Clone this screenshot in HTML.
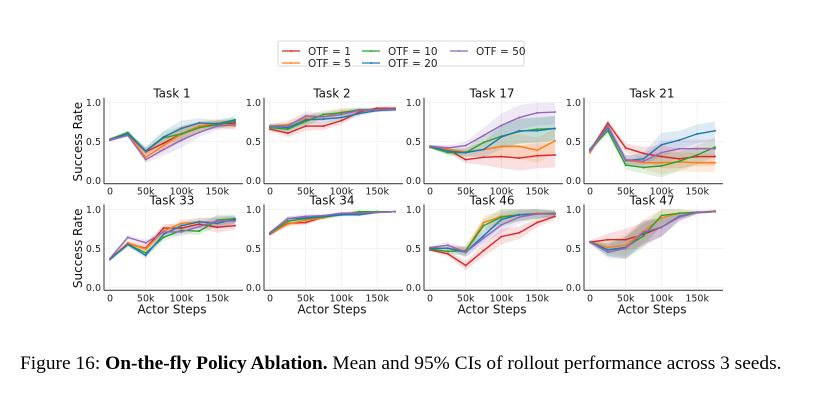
<!DOCTYPE html>
<html><head><meta charset="utf-8"><style>
body{margin:0;background:#fff;width:822px;height:414px;overflow:hidden}
svg text{font-family:"DejaVu Sans","Liberation Sans",sans-serif}
.cap{position:absolute;left:20px;top:353px;font-family:"Liberation Serif",serif;font-size:19.4px;color:#000;white-space:nowrap}
</style></head><body>
<svg id="fig" width="822" height="414" style="position:absolute;left:0;top:0"></svg>
<div class="cap">Figure 16: <b>On-the-fly Policy Ablation.</b> Mean and 95% CIs of rollout performance across 3 seeds.</div>
<script>
const steps=[0,25000,50000,75000,100000,125000,150000,175000];
const xTicks=[0,50000,100000,150000];
const xTickLabels=["0","50k","100k","150k"];
const yTicks=[0,0.5,1.0];
const yTickLabels=["0.0","0.5","1.0"];
const seriesNames=["OTF = 1","OTF = 5","OTF = 10","OTF = 20","OTF = 50"];
const colors=["#d62728","#ff7f0e","#2ca02c","#1f77b4","#9467bd"];
const taskNames=["Task 1","Task 2","Task 17","Task 21","Task 33","Task 34","Task 46","Task 47"];
const t1=[[.52,.60,.37,.48,.60,.70,.72,.74],[.53,.60,.30,.45,.60,.70,.74,.70],[.53,.62,.38,.55,.60,.68,.72,.76],[.53,.60,.38,.56,.67,.74,.73,.78],[.52,.58,.27,.40,.52,.62,.70,.72]];
const t2=[[.66,.61,.70,.70,.77,.88,.93,.93],[.70,.72,.80,.82,.88,.90,.90,.91],[.68,.66,.76,.85,.87,.91,.91,.92],[.70,.68,.78,.79,.81,.86,.90,.91],[.70,.70,.83,.82,.85,.90,.91,.92]];
const t17=[[.44,.40,.27,.30,.31,.29,.32,.33],[.44,.40,.37,.40,.44,.44,.39,.51],[.43,.36,.36,.49,.57,.63,.66,.67],[.44,.38,.36,.40,.56,.64,.64,.67],[.44,.42,.45,.58,.71,.81,.87,.88]];
const t21=[[.38,.74,.42,.35,.31,.28,.31,.31],[.36,.70,.26,.23,.23,.24,.23,.23],[.40,.64,.20,.17,.19,.25,.33,.43],[.40,.68,.26,.28,.46,.52,.60,.64],[.38,.70,.27,.25,.36,.41,.41,.41]];
const t33=[[.36,.56,.50,.76,.76,.81,.77,.79],[.36,.57,.49,.72,.82,.84,.83,.87],[.36,.55,.44,.64,.73,.72,.86,.88],[.36,.55,.41,.68,.79,.84,.82,.87],[.37,.64,.57,.71,.71,.78,.85,.85]];
const t34=[[.68,.82,.83,.90,.94,.95,.96,.97],[.69,.81,.86,.89,.94,.96,.97,.97],[.69,.85,.88,.90,.93,.97,.97,.97],[.70,.88,.89,.91,.93,.93,.96,.97],[.70,.88,.91,.92,.95,.95,.96,.97]];
const t46=[[.48,.43,.28,.47,.65,.70,.83,.91],[.50,.50,.47,.83,.91,.93,.95,.95],[.49,.46,.47,.79,.90,.93,.94,.95],[.50,.50,.45,.66,.87,.93,.94,.94],[.51,.54,.45,.63,.80,.90,.94,.94]];
const t47=[[.58,.61,.61,.68,.77,.90,.96,.97],[.58,.51,.54,.72,.89,.95,.96,.98],[.58,.48,.51,.66,.92,.95,.96,.97],[.58,.48,.51,.70,.77,.91,.96,.97],[.58,.45,.50,.71,.77,.90,.96,.97]];
const taskData=[t1,t2,t17,t21,t33,t34,t46,t47];
const ci1=[.02,.02,.05,.08,.10,.06,.05,.05];
const ci2=[.03,.05,.06,.05,.05,.03,.02,.02];
const ci17=[.02,.04,.05,.10,.15,.16,.16,.16];
const ci21=[.03,.04,.06,.08,.15,.12,.12,.12];
const ci33=[.02,.03,.04,.05,.05,.05,.07,.05];
const ci34=[.02,.03,.03,.02,.02,.02,.01,.01];
const ci46=[.02,.04,.06,.08,.10,.08,.06,.04];
const ci47=[.02,.08,.14,.15,.12,.05,.02,.01];
const taskCI=[ci1,ci2,ci17,ci21,ci33,ci34,ci46,ci47];

const NS="http://www.w3.org/2000/svg";
const svg=document.getElementById('fig');
function mk(tag,at,par){const e=document.createElementNS(NS,tag);for(const k in at)e.setAttribute(k,at[k]);(par||svg).appendChild(e);return e;}

const lg=mk('g',{});


mk('rect',{x:278,y:41,width:246,height:25,fill:'#fff',stroke:'#ccc','stroke-width':0.8,rx:2},lg);
const lpos=[[282,51],[282,63],[362,51],[362,63],[450,51]];
seriesNames.forEach((n,i)=>{
  const g=mk('g',{},lg);
  
  
  const [lx,ly]=lpos[i];
  mk('line',{x1:lx,y1:ly,x2:lx+18,y2:ly,stroke:colors[i],'stroke-width':1.3},g);
  mk('circle',{cx:lx+9,cy:ly,r:1,fill:colors[i]},g);
  const t=mk('text',{x:lx+26,y:ly+3.8,'font-size':10.5,fill:'#222'},g);t.textContent=n;
});

const pX0=[110,270,430,590];
const rowY=[[102.7,180.7],[209.3,287.3]];
taskData.forEach((data,ti)=>{
  const col=ti%4,row=Math.floor(ti/4);
  const x0=pX0[col];const [y1,y0]=rowY[row];
  const sx=v=>x0+v/175000*125;
  const sy=v=>y0-(y0-y1)*v;
  const g=mk('g',{});
  
  
  yTicks.forEach(v=>mk('line',{x1:x0-6,x2:x0+133,y1:sy(v),y2:sy(v),stroke:'#ececec','stroke-width':0.7},g));
  xTicks.forEach(v=>mk('line',{x1:sx(v),x2:sx(v),y1:y1-4,y2:y0+1,stroke:'#ececec','stroke-width':0.7},g));
  mk('line',{x1:x0-6,x2:x0-6,y1:y1-5,y2:y0+3,stroke:'#444','stroke-width':1.1},g);
  mk('line',{x1:x0-6,x2:x0+133,y1:y0+3,y2:y0+3,stroke:'#444','stroke-width':1.1},g);
  yTicks.forEach((v,i)=>{const t=mk('text',{x:x0-9,y:sy(v)+3.5,'font-size':9.5,'text-anchor':'end',fill:'#222'},g);t.textContent=yTickLabels[i];});
  xTicks.forEach((v,i)=>{const t=mk('text',{x:sx(v),y:y0+14,'font-size':9.5,'text-anchor':'middle',fill:'#222'},g);t.textContent=xTickLabels[i];});
  const tt=mk('text',{x:x0+62,y:y1-5,'font-size':12,'text-anchor':'middle',fill:'#111'},g);tt.textContent=taskNames[ti];
  if(row===1){const a=mk('text',{x:x0+62,y:y0+26,'font-size':12,'text-anchor':'middle',fill:'#111'},g);a.textContent='Actor Steps';}
  if(col===0){const a=mk('text',{x:0,y:0,'font-size':12,'text-anchor':'middle',fill:'#111',transform:`translate(${x0-28},${(y0+y1)/2}) rotate(-90)`},g);a.textContent='Success Rate';}
  const ci=taskCI[ti];
  data.forEach((s,si)=>{
    const up=s.map((v,k)=>sx(steps[k])+','+sy(Math.min(1,v+ci[k])));
    const dn=s.map((v,k)=>sx(steps[k])+','+sy(Math.max(0,v-ci[k]))).reverse();
    const b=mk('polygon',{points:up.concat(dn).join(' '),fill:colors[si],'fill-opacity':0.15,stroke:'none'},g);
    
    
  });
  data.forEach((s,si)=>{
    const l=mk('polyline',{points:s.map((v,k)=>sx(steps[k])+','+sy(v)).join(' '),fill:'none',stroke:colors[si],'stroke-width':1.4},g);
    
    
    s.forEach((v,k)=>mk('circle',{cx:sx(steps[k]),cy:sy(v),r:1,fill:colors[si]},g));
  });
});
</script>
</body></html>
